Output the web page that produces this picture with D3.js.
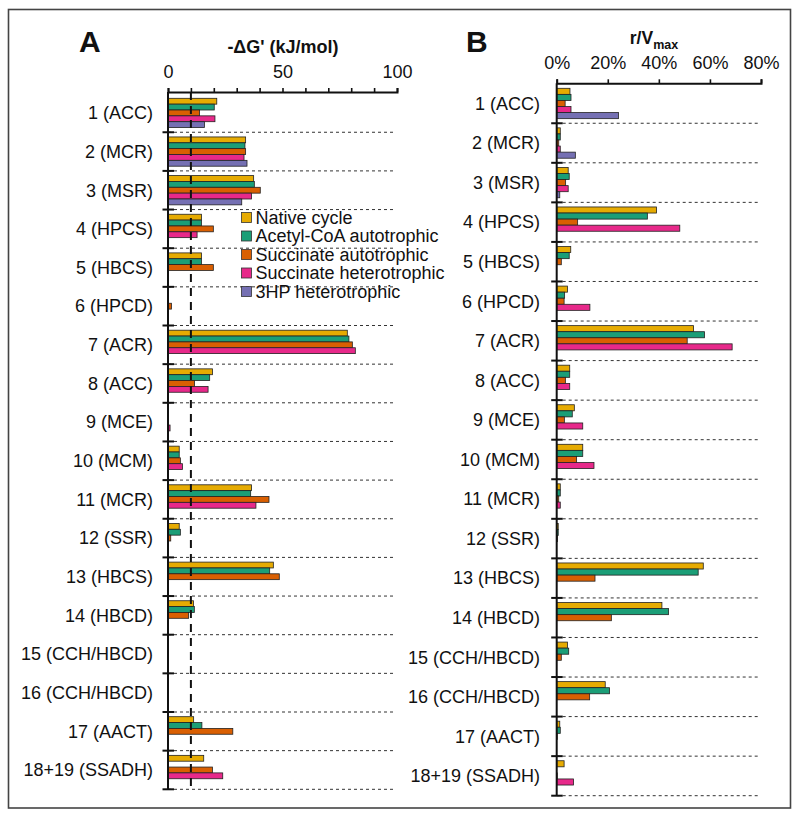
<!DOCTYPE html>
<meta charset="utf-8">
<style>
body { margin: 0; background: #fff; }
svg { font-family: "Liberation Sans", Arial, sans-serif; }
.lbl { font-size: 18px; fill: #111; }
.tick text { font-size: 18px; fill: #111; }
.sep { stroke: #333; stroke-width: 1; stroke-dasharray: 3,3; }
.bar { stroke: #222; stroke-width: 0.8; }
</style>
<svg width="800" height="820"></svg>
<script src="https://d3js.org/d3.v7.min.js"></script>
<script>
let svg = d3.select("svg");

let categories = ["1 (ACC)", "2 (MCR)", "3 (MSR)", "4 (HPCS)", "5 (HBCS)", "6 (HPCD)",
  "7 (ACR)", "8 (ACC)", "9 (MCE)", "10 (MCM)", "11 (MCR)", "12 (SSR)", "13 (HBCS)",
  "14 (HBCD)", "15 (CCH/HBCD)", "16 (CCH/HBCD)", "17 (AACT)", "18+19 (SSADH)"];
let series = ["Native cycle", "Acetyl-CoA autotrophic", "Succinate autotrophic",
  "Succinate heterotrophic", "3HP heterotrophic"];
let colors = ["#e6ab02", "#1b9e77", "#d95f02", "#e7298a", "#7570b3"];

// panel A: -dG' (kJ/mol)
let dgNative   = [21.3, 33.9, 37.4, 14.6, 14.6, 0.2, 78.3, 19.4, 0.2, 4.9, 36.5, 4.9, 46.0, 11.1, 0.2, 0.2, 11.2, 15.6];
let dgAcetyl   = [20.2, 33.6, 37.7, 14.6, 14.6, 0.2, 79.0, 18.2, 0.2, 4.9, 36.1, 5.4, 44.4, 11.5, 0.2, 0.2, 14.8, 0];
let dgSuccAuto = [13.8, 33.9, 40.3, 19.8, 19.8, 1.5, 80.5, 11.6, 0, 5.4, 44.1, 1.2, 48.6, 9.0, 0.2, 0.2, 28.3, 19.4];
let dgSuccHet  = [20.5, 33.2, 36.5, 12.7, 0, 0, 81.8, 17.5, 0.9, 6.3, 38.4, 0, 0, 0, 0, 0, 0, 23.9];
let dg3HP      = [15.9, 34.5, 32.2, 0, 0, 0, 0, 0, 0, 0, 0, 0, 0, 0, 0, 0, 0, 0];
let dgTicks = [0, 50, 100];
let dgThreshold = 10;

// panel B: r/Vmax (%)
let rNative   = [5.2, 1.4, 4.5, 39.1, 5.5, 4.2, 53.6, 5.1, 6.9, 10.2, 1.4, 0.6, 57.4, 41.2, 4.2, 19.0, 1.2, 2.9];
let rAcetyl   = [5.6, 1.4, 4.9, 35.5, 4.9, 3.1, 57.9, 5.1, 6.1, 10.2, 1.4, 0.6, 55.4, 43.8, 4.7, 20.7, 1.4, 0];
let rSuccAuto = [3.3, 0.8, 3.5, 8.2, 1.8, 2.9, 51.1, 3.4, 3.0, 7.8, 0.8, 0.3, 15.0, 21.4, 1.8, 12.9, 0.2, 0.2];
let rSuccHet  = [5.6, 1.4, 4.5, 48.2, 0, 13.0, 68.7, 5.1, 10.2, 14.6, 1.4, 0, 0, 0, 0, 0, 0, 6.6];
let r3HP      = [24.2, 7.3, 1.2, 0, 0, 0, 0, 0, 0, 0, 0, 0, 0, 0, 0, 0, 0, 0];
let rTicks = [0, 20, 40, 60, 80];

// outer frame
svg.append("rect")
  .attr("x", 8.5).attr("y", 9.5).attr("width", 782).attr("height", 798.5)
  .attr("fill", "none").attr("stroke", "#444").attr("stroke-width", 1.6);

function drawPanel(p) {
  let x = d3.scaleLinear().domain(p.domain).range([p.x0, p.x1]);
  let y = d3.scaleBand().domain(categories).range([p.yTop, p.yBot]);
  let inner = d3.scaleBand().domain(d3.range(5))
    .range([p.pad, y.bandwidth() - p.pad]);
  let g = svg.append("g");

  // separators
  g.selectAll(".sep").data(categories).enter().append("line")
    .attr("class", "sep")
    .attr("x1", p.x0).attr("x2", p.sepEnd)
    .attr("y1", d => y(d) + y.bandwidth()).attr("y2", d => y(d) + y.bandwidth());

  // bars
  let rows = [];
  p.values.forEach((arr, s) => arr.forEach((v, i) => {
    if (v > 0) rows.push({s: s, cat: categories[i], v: v});
  }));
  g.selectAll(".bar").data(rows).enter().append("rect")
    .attr("class", "bar")
    .attr("x", x(0))
    .attr("y", d => y(d.cat) + inner(d.s))
    .attr("width", d => x(d.v) - x(0))
    .attr("height", inner.bandwidth())
    .attr("fill", d => colors[d.s]);

  // threshold
  if (p.threshold != null) {
    g.append("line")
      .attr("x1", x(p.threshold)).attr("x2", x(p.threshold))
      .attr("y1", p.axisY).attr("y2", p.yBot)
      .attr("stroke", "#111").attr("stroke-width", 2)
      .attr("stroke-dasharray", "8,6");
  }

  // y axis line with ticks at separators
  g.append("line")
    .attr("x1", x(0)).attr("x2", x(0)).attr("y1", p.axisY).attr("y2", p.yBot)
    .attr("stroke", "#111").attr("stroke-width", 2);
  g.selectAll(".ytk").data(categories).enter().append("line")
    .attr("x1", x(0) - 5.5).attr("x2", x(0) + 6)
    .attr("y1", d => y(d) + y.bandwidth()).attr("y2", d => y(d) + y.bandwidth())
    .attr("stroke", "#111").attr("stroke-width", 2);

  // category labels
  g.selectAll(".lbl").data(categories).enter().append("text")
    .attr("class", "lbl")
    .attr("x", p.labelX)
    .attr("y", d => y(d) + y.bandwidth() / 2)
    .attr("dy", "0.35em")
    .attr("text-anchor", "end")
    .text(d => d);

  // top axis
  let ax = d3.axisTop(x).tickValues(d3.range(p.domain[0], p.domain[1] + 0.01, p.minorStep))
    .tickSize(4).tickPadding(10)
    .tickFormat(d => p.labelTicks.includes(d) ? p.fmt(d) : "");
  let axg = g.append("g").attr("transform", `translate(0,${p.axisY})`).call(ax);
  axg.select(".domain").attr("stroke", "#111").attr("stroke-width", 2);
  axg.selectAll(".tick line").attr("stroke", "#111").attr("stroke-width", 1.6);
  axg.selectAll(".tick text").attr("fill", "#111");

  // panel letter
  g.append("text").attr("x", p.letterX).attr("y", 52)
    .attr("font-size", 30).attr("font-weight", "bold").attr("fill", "#111")
    .text(p.letter);
  return {x: x, y: y, g: g};
}

let pa = drawPanel({
  letter: "A", letterX: 79, domain: [0, 100], x0: 168, x1: 397,
  yTop: 93.6, yBot: 789.3, axisY: 92, pad: 4.7, sepEnd: 395, labelX: 153,
  values: [dgNative, dgAcetyl, dgSuccAuto, dgSuccHet, dg3HP],
  minorStep: 10, labelTicks: dgTicks, fmt: d => d, threshold: dgThreshold
});
pa.g.append("text").attr("x", 283).attr("y", 53).attr("text-anchor", "middle")
  .attr("font-size", 18).attr("font-weight", "bold").attr("fill", "#111")
  .text("-ΔG' (kJ/mol)");

let pb = drawPanel({
  letter: "B", letterX: 466, domain: [0, 80], x0: 556.7, x1: 761,
  yTop: 83.7, yBot: 795.7, axisY: 83.3, pad: 4.6, sepEnd: 760, labelX: 540,
  values: [rNative, rAcetyl, rSuccAuto, rSuccHet, r3HP],
  minorStep: 20, labelTicks: rTicks, fmt: d => d + "%", threshold: null
});
let tb = pb.g.append("text").attr("x", 654).attr("y", 44).attr("text-anchor", "middle")
  .attr("font-size", 17.5).attr("font-weight", "bold").attr("fill", "#111");
tb.append("tspan").text("r/V");
tb.append("tspan").attr("font-size", 12.5).attr("dy", 5).text("max");

// legend
let leg = svg.append("g").attr("transform", "translate(241.5,212.5)");
let li = leg.selectAll("g").data(series).enter().append("g")
  .attr("transform", (d, i) => `translate(0,${i * 18.5})`);
li.append("rect").attr("width", 10).attr("height", 10)
  .attr("fill", (d, i) => colors[i]).attr("stroke", "#333").attr("stroke-width", 0.8);
li.append("text").attr("x", 14).attr("y", 5).attr("dy", "0.35em")
  .attr("font-size", 18).attr("fill", "#111").text(d => d);
</script>
